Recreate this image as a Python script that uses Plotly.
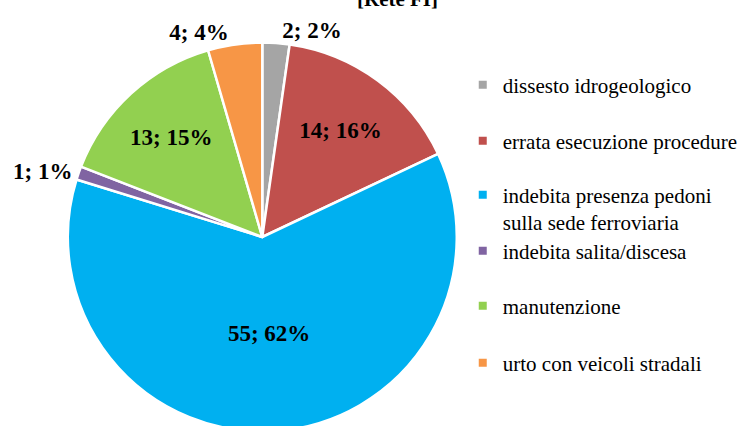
import plotly.graph_objects as go

categories = ["dissesto idrogeologico", "errata esecuzione procedure",
              "indebita presenza pedoni<br>sulla sede ferroviaria",
              "indebita salita/discesa", "manutenzione", "urto con veicoli stradali"]
values = [2, 14, 55, 1, 13, 4]
colors = ["#A5A5A5", "#C0504D", "#00B0F0", "#8064A2", "#92D050", "#F79646"]
text_positions = ["outside", "inside", "inside", "outside", "inside", "outside"]
title_text = "[Rete FI]"

W, H = 743, 445
FONT = "Liberation Serif, Times New Roman, serif"

fig = go.Figure()

cx, cy, r = 263, 237, 195
fig.add_trace(go.Pie(
    labels=categories, values=values, sort=False, direction="clockwise", rotation=0,
    marker=dict(colors=colors, line=dict(color="white", width=2.5)),
    textposition=text_positions,
    texttemplate="%{value}; %{percent:.0%}",
    insidetextorientation="horizontal",
    textfont=dict(family=FONT, size=23, color="black", weight="bold"),
    showlegend=False,
    domain=dict(x=[(cx - r) / W, (cx + r) / W], y=[1 - (cy + r) / H, 1 - (cy - r) / H]),
    hoverinfo="label+value+percent",
))

legend_y = [85, 141, 208.5, 251, 306, 363]
layout_legends = {}
for i, (cat, col) in enumerate(zip(categories, colors)):
    name = "legend" if i == 0 else f"legend{i+1}"
    fig.add_trace(go.Scatter(
        x=[None], y=[None], mode="markers", name=cat,
        marker=dict(symbol="square", size=8, color=col),
        legend=name, showlegend=True,
    ))
    layout_legends[name] = dict(
        x=(504 - 40) / W, xanchor="left", y=1 - legend_y[i] / H, yanchor="middle",
        bgcolor="rgba(0,0,0,0)", borderwidth=0, valign="top",
        font=dict(family=FONT, size=21, color="black"),
        itemclick=False, itemdoubleclick=False,
    )

fig.update_layout(
    width=W, height=H,
    margin=dict(l=0, r=0, t=0, b=0),
    paper_bgcolor="white", plot_bgcolor="white",
    xaxis=dict(visible=False), yaxis=dict(visible=False),
    annotations=[dict(
        text=f"<b>{title_text}</b>", x=399 / W, y=1 - 13 / H, xref="paper", yref="paper",
        xanchor="center", yanchor="bottom", showarrow=False,
        font=dict(family=FONT, size=21, color="black"),
    )],
    **layout_legends,
)

fig.write_html(
    "out.html",
    config={"displayModeBar": False},
    post_script="document.body.style.margin='0';"
                "document.body.style.overflow='hidden';"
                "document.documentElement.style.overflow='hidden';",
)
